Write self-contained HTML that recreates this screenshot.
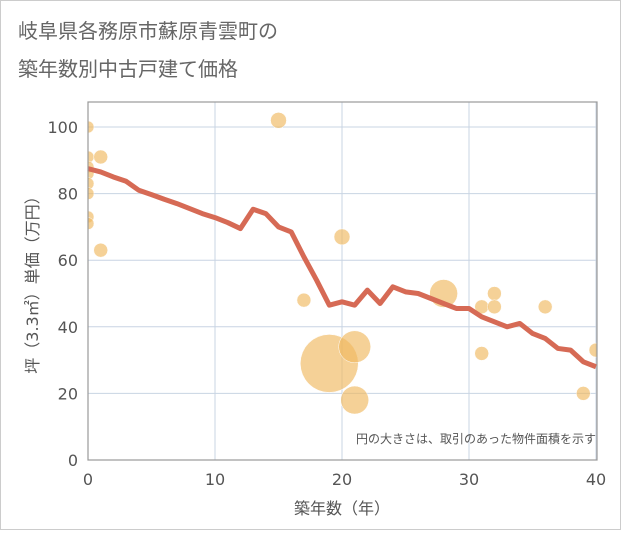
<!DOCTYPE html>
<html><head><meta charset="utf-8"><style>
body{margin:0;background:#fff;}
svg text{font-family:"DejaVu Sans","Noto Sans CJK JP",sans-serif;}
</style></head><body>
<svg width="621" height="530" viewBox="0 0 621 530">
<defs><clipPath id="plotclip"><rect x="88" y="102" width="509" height="358"/></clipPath></defs>
<rect x="0.5" y="0.5" width="620" height="529" fill="#fff" stroke="#ccc"/>
<text x="18" y="38" font-size="20" fill="#666">岐阜県各務原市蘇原青雲町の</text>
<text x="18" y="76" font-size="20" fill="#666">築年数別中古戸建て価格</text>
<g id="grid"></g>
<g id="bubbles" clip-path="url(#plotclip)"></g>
<path id="line" fill="none" stroke="#d66a55" stroke-width="5" stroke-linejoin="round"/>
<rect x="88" y="102" width="509" height="358" fill="none" stroke="#999" stroke-width="1.2"/>
<g id="ticks"></g>
<text x="596" y="443" font-size="12" fill="#555" text-anchor="end">円の大きさは、取引のあった物件面積を示す</text>
<text x="342" y="514" font-size="16" fill="#555" text-anchor="middle">築年数（年）</text>
<text transform="translate(38,281) rotate(-90)" font-size="16" fill="#555" text-anchor="middle">坪（3.3㎡）単価（万円）</text>
</svg>
<script>
const xTicks=[0,10,20,30,40];
const yTicks=[0,20,40,60,80,100];
const lineYears=[0,1,2,3,4,5,6,7,8,9,10,11,12,13,14,15,16,17,18,19,20,21,22,23,24,25,26,27,28,29,30,31,32,33,34,35,36,37,38,39,40];
const lineValues=[87.5,86.5,85,83.7,81,79.7,78.3,77,75.5,74,72.8,71.3,69.5,75.3,74,70,68.5,61,54,46.5,47.5,46.5,51,47,52,50.5,50,48.5,47,45.5,45.5,43,41.5,40,41,38,36.5,33.5,33,29.5,28];
const bubbleYears=[0,0,0,0,0,0,0,0,1,1,15,17,19,20,21,21,28,31,31,32,32,36,39,40];
const bubbleValues=[100,91,88,86,83,80,73,71,91,63,102,48,29,67,34,18,50,46,32,50,46,46,20,33];
const bubbleSizes=[6,6,6,6,6,6,6,6,7,7,8,7,29,8,16,14,14,7,7,7,7,7,7,7];
const X=v=>88+v*12.7, Y=v=>460-v*3.33;
const NS='http://www.w3.org/2000/svg';
const grid=document.getElementById('grid'), ticks=document.getElementById('ticks');
xTicks.forEach(t=>{
 const l=document.createElementNS(NS,'line');
 
 
 l.setAttribute('x1',X(t));l.setAttribute('x2',X(t));l.setAttribute('y1',102);l.setAttribute('y2',460);
 l.setAttribute('stroke','#c8d4e3');grid.appendChild(l);
 const tx=document.createElementNS(NS,'text');
 
 
 tx.setAttribute('x',X(t));tx.setAttribute('y',485);tx.setAttribute('font-size','16');tx.setAttribute('fill','#555');tx.setAttribute('text-anchor','middle');
 tx.textContent=t;ticks.appendChild(tx);
});
yTicks.forEach(t=>{
 const l=document.createElementNS(NS,'line');
 
 
 l.setAttribute('x1',88);l.setAttribute('x2',597);l.setAttribute('y1',Y(t));l.setAttribute('y2',Y(t));
 l.setAttribute('stroke','#c8d4e3');grid.appendChild(l);
 const tx=document.createElementNS(NS,'text');
 
 
 tx.setAttribute('x',78);tx.setAttribute('y',Y(t)+6);tx.setAttribute('font-size','16');tx.setAttribute('fill','#555');tx.setAttribute('text-anchor','end');
 tx.textContent=t;ticks.appendChild(tx);
});
const bg=document.getElementById('bubbles');
bubbleYears.forEach((yr,i)=>{
 const c=document.createElementNS(NS,'circle');
 
 
 c.setAttribute('cx',X(yr));c.setAttribute('cy',Y(bubbleValues[i]));c.setAttribute('r',bubbleSizes[i]);
 c.setAttribute('fill','rgba(240,185,95,0.65)');c.setAttribute('stroke','#fff');c.setAttribute('stroke-width','0.5');
 bg.appendChild(c);
});
document.getElementById('line').setAttribute('d',lineYears.map((yr,i)=>(i?'L':'M')+X(yr)+','+Y(lineValues[i])).join(''));
</script>
</body></html>
